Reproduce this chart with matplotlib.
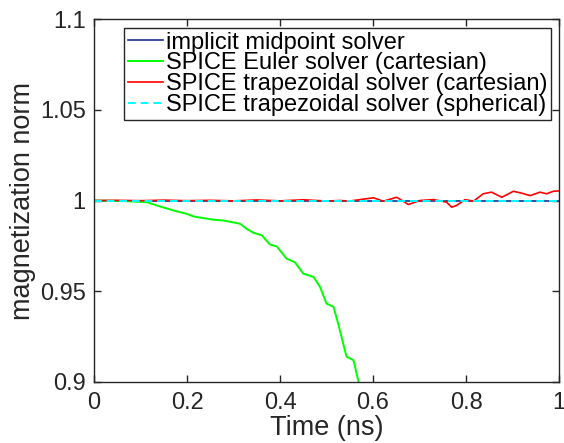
import numpy as np
import matplotlib
matplotlib.use("Agg")
import matplotlib.pyplot as plt

plt.rcParams['font.family'] = ['Liberation Sans', 'DejaVu Sans']

# reference solvers stay on the unit norm
t_flat = [0.0, 1.0]
m_flat = [1.0, 1.0]

# SPICE Euler (cartesian)
t_euler = [0.0, 0.05, 0.113, 0.142, 0.178, 0.199, 0.214, 0.257, 0.278, 0.314,
           0.328, 0.343, 0.361, 0.378, 0.393, 0.414, 0.432, 0.450, 0.472,
           0.486, 0.500, 0.515, 0.525, 0.543, 0.558, 0.568, 0.575]
m_euler = [1.0, 0.9998, 0.9991, 0.9967, 0.9940, 0.9927, 0.9912, 0.9894, 0.9890,
           0.9872, 0.9844, 0.9822, 0.9808, 0.9758, 0.9747, 0.9680, 0.9660,
           0.9597, 0.9579, 0.9524, 0.9432, 0.9414, 0.9322, 0.9140, 0.9120,
           0.9010, 0.8950]

# SPICE trapezoidal (cartesian)
t_trap = [0.0, 0.05, 0.10, 0.15, 0.20, 0.25, 0.30, 0.35, 0.40, 0.45, 0.50,
          0.529, 0.55, 0.575, 0.601, 0.622, 0.651, 0.676, 0.701, 0.730, 0.758,
          0.769, 0.780, 0.798, 0.816, 0.837, 0.855, 0.877, 0.902, 0.920,
          0.938, 0.959, 0.973, 0.988, 1.0]
m_trap = [1.0, 1.0001, 0.9999, 1.0002, 0.9999, 1.0001, 0.9998, 1.0003, 0.9998,
          1.0004, 0.9997, 1.0, 0.9997, 1.0006, 1.0015, 0.9996, 1.0018, 0.9978,
          1.0000, 1.0005, 0.9991, 0.9963, 0.9973, 1.0005, 0.9996, 1.0037,
          1.0046, 1.0018, 1.0051, 1.0040, 1.0027, 1.0046, 1.0037, 1.0051, 1.0053]

labels = ['implicit midpoint solver', 'SPICE Euler solver (cartesian)',
          'SPICE trapezoidal solver (cartesian)', 'SPICE trapezoidal solver (spherical)']

fig = plt.figure(figsize=(5.64, 4.43), dpi=100)
ax = fig.add_axes([0.1667, 0.1377, 0.8245, 0.8194])

ax.plot(t_flat, m_flat, color='#1c2c8c', lw=1.2, label=labels[0])
ax.plot(t_euler, m_euler, color='#00ff00', lw=1.4, label=labels[1])
ax.plot(t_trap, m_trap, color='#ff0000', lw=1.2, label=labels[2])
ax.plot(t_flat, m_flat, color='#00ffff', lw=1.4, ls=(0, (4, 2.5)), label=labels[3])

ax.set_xlim(0, 1)
ax.set_ylim(0.9, 1.1)
ax.set_xticks([0, 0.2, 0.4, 0.6, 0.8, 1])
ax.set_xticklabels(['0', '0.2', '0.4', '0.6', '0.8', '1'])
ax.set_yticks([0.9, 0.95, 1.0, 1.05, 1.1])
ax.set_yticklabels(['0.9', '0.95', '1', '1.05', '1.1'])

for s in ax.spines.values():
    s.set_color('#262626')
    s.set_linewidth(1.0)
ax.tick_params(direction='in', top=True, right=True, length=5, width=1.0,
               colors='#262626', labelsize=17)
ax.tick_params(axis='x', pad=7)
ax.tick_params(axis='y', pad=6)
ax.set_xlabel('Time (ns)', fontsize=19.5, color='#262626', labelpad=1)
ax.set_ylabel('magnetization norm', fontsize=19.5, color='#262626', labelpad=3)

leg = ax.legend(loc='upper right', bbox_to_anchor=(0.982, 0.975), fontsize=17,
                frameon=True, fancybox=False, framealpha=1, edgecolor='#262626',
                handlelength=1.5, handletextpad=0.1, labelspacing=-0.05,
                borderpad=0.15, borderaxespad=0)
leg.get_frame().set_linewidth(1.0)

fig.savefig('out.png', dpi=100)
